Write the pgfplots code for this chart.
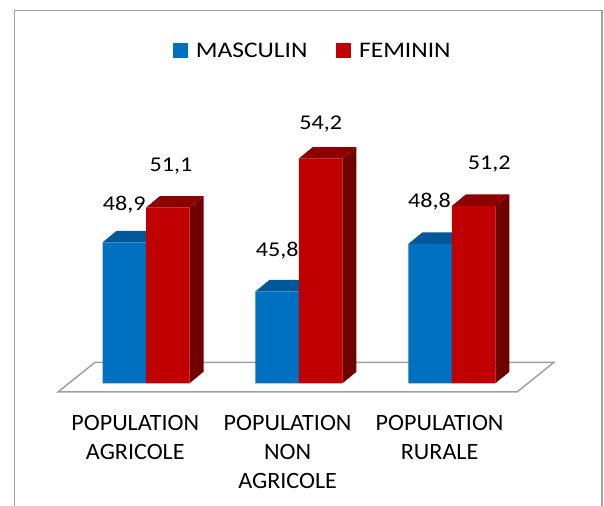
\documentclass[border=0pt]{standalone}
\usepackage{fontspec}
\setmainfont{Carlito}
\newfontfamily\widefont{Carlito}[FakeStretch=1.14]
\newfontfamily\valfont{Carlito}[FakeStretch=1.15]
\newfontfamily\labfont{Carlito}[FakeStretch=1.03]
\usepackage{pgfplots}
\pgfplotsset{compat=1.18}
\definecolor{blueF}{RGB}{0,112,192}
\definecolor{blueT}{RGB}{0,88,152}
\definecolor{redF}{RGB}{192,0,0}
\definecolor{redT}{RGB}{142,0,0}
\definecolor{redS}{RGB}{112,0,0}
\definecolor{floorgray}{RGB}{160,160,160}
\definecolor{framegray}{RGB}{160,160,160}
\begin{document}
\begin{tikzpicture}
\begin{axis}[name=bg, at={(0,0)}, anchor=south west,
  width=604bp, height=506bp, scale only axis, hide axis, clip=false,
  xmin=-0.9549, xmax=2.9954, ymin=32.249, ymax=64.213,
  legend columns=2,
  legend style={at={(rel axis cs:0.2864,0.915)}, anchor=north west, draw=none, fill=none,
    inner sep=0pt, outer sep=0pt, font=\widefont\fontsize{22.3bp}{27bp}\selectfont,
    nodes={inner sep=0pt},
    /tikz/every odd column/.append style={column sep=8bp},
    /tikz/every even column/.append style={column sep=28.7bp}},
  legend image code/.code={\fill[#1, draw=none] (0bp,-7.5bp) rectangle (15bp,7.5bp);}]
\coordinate (bl) at (rel axis cs:0,0);
\coordinate (tr) at (rel axis cs:1,1);
\addlegendimage{fill=blueF, draw=none}\addlegendentry{MASCULIN}
\addlegendimage{fill=redF, draw=none}\addlegendentry{FEMININ}
% frame
\draw[framegray, line width=1.6bp] (rel axis cs:0.0240,-0.05) |- (rel axis cs:0.9967,0.9792) -- (rel axis cs:0.9967,-0.05);
% floor
\addplot[fill=white, draw=floorgray, line width=1.5bp] coordinates {(-0.5755,39.4504) (2.4264,39.4504) (2.6684,41.3266) (-0.3336,41.3266)} -- cycle;
% category labels
\begin{scope}[every node/.style={anchor=north, align=center, inner sep=0pt, font=\labfont\fontsize{23.4bp}{29bp}\selectfont}]
\node at (axis cs:-0.070,37.9975) {POPULATION\\AGRICOLE};
\node at (axis cs:0.9261,37.9975) {POPULATION\\NON\\AGRICOLE};
\node at (axis cs:1.9202,37.9975) {POPULATION\\RURALE};
\end{scope}
% value labels
\begin{scope}[every node/.style={anchor=base, inner sep=0pt, font=\valfont\fontsize{21bp}{26bp}\selectfont}]
\node at (axis cs:-0.1426,50.903) {48,9};
\node at (axis cs:0.1635,53.367) {51,1};
\node at (axis cs:0.8587,47.997) {45,8};
\node at (axis cs:1.1432,56.045) {54,2};
\node at (axis cs:1.8541,51.093) {48,8};
\node at (axis cs:2.2446,53.519) {51,2};
\end{scope}
\end{axis}
\begin{axis}[at={(0,122.7bp)}, anchor=south west,
  width=604bp, height=383.3bp, scale only axis, hide axis,
  xmin=-0.9549, xmax=2.9954, ymin=40, ymax=64.213]
% blue tops
\addplot[fill=blueT, draw=none] coordinates {(-0.2845,48.9) (-0.1929,49.6265) (0.0916,49.6265) (0,48.9)} -- cycle;
\addplot[fill=blueT, draw=none] coordinates {(0.7155,45.8) (0.8071,46.5265) (1.0916,46.5265) (1,45.8)} -- cycle;
\addplot[fill=blueT, draw=none] coordinates {(1.7155,48.8) (1.8071,49.5265) (2.0916,49.5265) (2,48.8)} -- cycle;
% blue fronts
\addplot[ybar, bar width=43.5bp, bar shift=-21.75bp, fill=blueF, draw=none] coordinates {(0,48.9) (1,45.8) (2,48.8)};
% red sides
\addplot[fill=redS, draw=none] coordinates {(0.2845,40) (0.3761,40.7265) (0.3761,51.8265) (0.2845,51.1)} -- cycle;
\addplot[fill=redS, draw=none] coordinates {(1.2845,40) (1.3761,40.7265) (1.3761,54.9265) (1.2845,54.2)} -- cycle;
\addplot[fill=redS, draw=none] coordinates {(2.2845,40) (2.3761,40.7265) (2.3761,51.9265) (2.2845,51.2)} -- cycle;
% red tops
\addplot[fill=redT, draw=none] coordinates {(0,51.1) (0.0916,51.8265) (0.3761,51.8265) (0.2845,51.1)} -- cycle;
\addplot[fill=redT, draw=none] coordinates {(1,54.2) (1.0916,54.9265) (1.3761,54.9265) (1.2845,54.2)} -- cycle;
\addplot[fill=redT, draw=none] coordinates {(2,51.2) (2.0916,51.9265) (2.3761,51.9265) (2.2845,51.2)} -- cycle;
% red fronts
\addplot[ybar, bar width=43.5bp, bar shift=21.75bp, fill=redF, draw=none] coordinates {(0,51.1) (1,54.2) (2,51.2)};
\end{axis}
\pgfresetboundingbox
\path[use as bounding box] (bl) rectangle (tr);
\end{tikzpicture}
\end{document}
